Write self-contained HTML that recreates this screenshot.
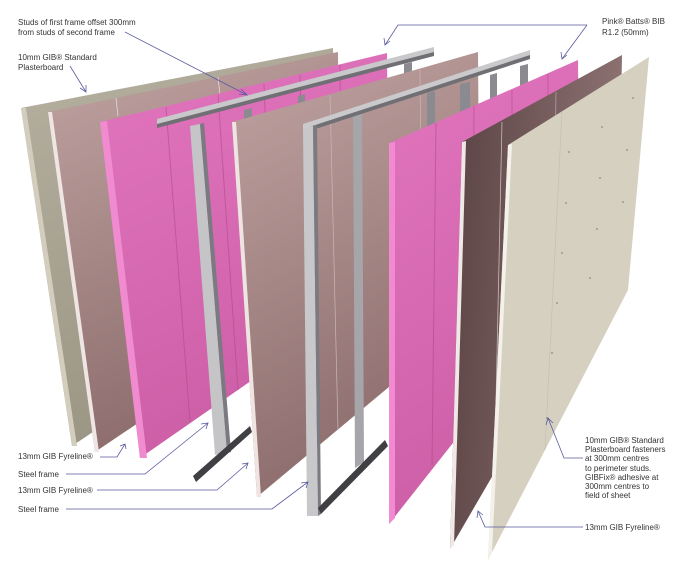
<!DOCTYPE html>
<html><head><meta charset="utf-8"><style>
html,body{margin:0;padding:0;background:#fff;width:682px;height:573px;overflow:hidden}
svg{display:block}
text{font-family:"Liberation Sans",sans-serif;font-size:8px;fill:#333}
</style></head><body>
<svg width="682" height="573" viewBox="0 0 682 573" xmlns="http://www.w3.org/2000/svg">
<defs>
<linearGradient id="mv" x1="0" y1="0" x2="0.3" y2="1"><stop offset="0" stop-color="#c0a4a2"/><stop offset="1" stop-color="#8c6c6c"/></linearGradient>
<linearGradient id="pk" x1="0" y1="0" x2="0.3" y2="1"><stop offset="0" stop-color="#e276be"/><stop offset="1" stop-color="#cc5ea6"/></linearGradient>
<linearGradient id="dk" x1="0" y1="0" x2="1" y2="0.2"><stop offset="0" stop-color="#5a4242"/><stop offset="1" stop-color="#8d7272"/></linearGradient>
<linearGradient id="gr" x1="0" y1="0" x2="0.3" y2="1"><stop offset="0" stop-color="#b6b0a0"/><stop offset="1" stop-color="#9b9584"/></linearGradient>
</defs>
<polygon points="21,108 333,48 338,268 72,446" fill="url(#gr)"/>
<polygon points="21,108 26,108 77,446 72,446" fill="#d2cdbd"/>
<polygon points="48,112 338,52 340,287 95,452" fill="url(#mv)"/>
<polygon points="48,112 52,112 99,452 95,452" fill="#efe6e4"/>
<line x1="116" y1="98" x2="118" y2="116" stroke="#ddd" stroke-width="0.8"/>
<line x1="218" y1="77" x2="220" y2="95" stroke="#ddd" stroke-width="0.8"/>
<polygon points="100,122 387,53 389,285 140,458" fill="url(#pk)"/>
<polygon points="100,122 107,121 147,458 140,458" fill="#f08bd0"/>
<g stroke="#b04a8a" stroke-width="1" opacity="0.6">
<line x1="166" y1="107" x2="190" y2="422"/><line x1="218" y1="95" x2="238" y2="390"/><line x1="264" y1="84" x2="275" y2="360"/><line x1="300" y1="75" x2="305" y2="320"/><line x1="340" y1="65" x2="342" y2="300"/>
</g>
<polygon points="157,119 434,47 434,54 157,126" fill="#c9c9cc"/>
<polygon points="157,124 434,52 434,56 157,128" fill="#6f6f74"/>
<polygon points="244,110 252,108 252,280 244,285" fill="#8a8a90"/>
<polygon points="298,96 305,94 305,250 298,255" fill="#8a8a90"/>
<polygon points="404,64 412,62 412,100 404,100" fill="#8a8a90"/>
<polygon points="190,126 200,124 227,453 215,455" fill="#c5c5c8"/>
<polygon points="200,124 204,123 231,452 227,453" fill="#7a7a80"/>
<polygon points="193,476 250,426 252,432 196,482" fill="#3f3f44"/>
<polygon points="232,122 478,52 480,311 257,497" fill="url(#mv)"/>
<polygon points="232,122 236,122 261,497 257,497" fill="#efe4e2"/>
<line x1="330" y1="95" x2="338" y2="430" stroke="#c8b8b8" stroke-width="0.7"/>
<line x1="420" y1="70" x2="423" y2="355" stroke="#c8b8b8" stroke-width="0.7"/>
<polygon points="353,115 362,113 364,462 355,468" fill="#a6a6aa"/>
<polygon points="427,93 435,91 435,360 427,370" fill="#8a8a90"/>
<polygon points="460,84 470,82 470,300 460,305" fill="#8a8a90"/>
<polygon points="490,75 497,73 497,260 490,265" fill="#8a8a90"/>
<polygon points="520,66 528,64 528,220 520,225" fill="#8a8a90"/>
<polygon points="303,124 530,50 530,57 303,131" fill="#cacacd"/>
<polygon points="303,129 530,55 530,59 303,133" fill="#6f6f74"/>
<polygon points="303,128 313,126 318,516 307,516" fill="#c8c8cb"/>
<polygon points="313,126 317,125 321,514 318,516" fill="#7a7a80"/>
<polygon points="318,508 385,440 388,446 321,514" fill="#3f3f44"/>
<polygon points="389,143 578,60 580,282 389,524" fill="url(#pk)"/>
<polygon points="389,143 395,142 395,518 389,524" fill="#f28ad2"/>
<g stroke="#b04a8a" stroke-width="1" opacity="0.6">
<line x1="436" y1="123" x2="432" y2="465"/><line x1="474" y1="106" x2="472" y2="415"/><line x1="512" y1="90" x2="512" y2="365"/><line x1="548" y1="74" x2="548" y2="320"/>
</g>
<polygon points="462,142 622,55 618,260 450,549" fill="url(#dk)"/>
<polygon points="462,142 466,141 454,545 450,549" fill="#f0e8e6"/>
<line x1="502" y1="122" x2="494" y2="495" stroke="#c9b9b9" stroke-width="0.8"/>
<line x1="556" y1="92" x2="552" y2="400" stroke="#b9a9a9" stroke-width="0.7"/>
<polygon points="508,145 649,57 628,290 488,560" fill="#d6d0c0"/>
<polygon points="508,145 512,144 492,553 488,560" fill="#f4f1ea"/>
<line x1="562" y1="112" x2="545" y2="450" stroke="#c6c0b0" stroke-width="0.7"/>
<g fill="#8f8a7c">
<circle cx="569" cy="152" r="0.9"/><circle cx="602" cy="127" r="0.9"/><circle cx="633" cy="98" r="0.9"/><circle cx="566" cy="203" r="0.9"/><circle cx="600" cy="178" r="0.9"/><circle cx="627" cy="150" r="0.9"/><circle cx="562" cy="253" r="0.9"/><circle cx="597" cy="229" r="0.9"/><circle cx="623" cy="202" r="0.9"/><circle cx="557" cy="303" r="0.9"/><circle cx="590" cy="278" r="0.9"/><circle cx="552" cy="353" r="0.9"/><circle cx="547" cy="418" r="0.9"/>
</g>
<g stroke="#5a5aa0" stroke-width="0.8" fill="none">
<polyline points="125,32 247,95"/><polyline points="241,89 247,95 239,94"/>
<polyline points="70,66 86,92"/><polyline points="80,88 86,92 86,85"/>
<polyline points="587,25 398,25 385,45"/><polyline points="384,38 385,45 390,41"/>
<polyline points="587,25 562,59"/><polyline points="561,52 562,59 567,55"/>
<polyline points="100,457 117,457 125,444"/><polyline points="120,446 125,444 126,449"/>
<polyline points="66,474 145,474 208,423"/><polyline points="201,424 208,423 206,429"/>
<polyline points="97,490 217,490 248,463"/><polyline points="242,464 248,463 246,469"/>
<polyline points="66,509 272,509 308,482"/><polyline points="301,483 308,482 306,488"/>
<polyline points="583,458 564,458 548,418"/><polyline points="546,425 548,418 553,423"/>
<polyline points="583,527 485,527 478,511"/><polyline points="477,518 478,511 483,515"/>
</g>
<text x="18" y="25">Studs of first frame offset 300mm</text>
<text x="18" y="35">from studs of second frame</text>
<text x="18" y="60">10mm GIB® Standard</text>
<text x="18" y="70">Plasterboard</text>
<text x="602" y="24">Pink® Batts® BIB</text>
<text x="602" y="35">R1.2 (50mm)</text>
<text x="18" y="459">13mm GIB Fyreline®</text>
<text x="18" y="477">Steel frame</text>
<text x="18" y="493">13mm GIB Fyreline®</text>
<text x="18" y="512">Steel frame</text>
<text x="585" y="443">10mm GIB® Standard</text>
<text x="585" y="452">Plasterboard fasteners</text>
<text x="585" y="461">at 300mm centres</text>
<text x="585" y="471">to perimeter studs.</text>
<text x="585" y="480">GIBFix® adhesive at</text>
<text x="585" y="489">300mm centres to</text>
<text x="585" y="498">field of sheet</text>
<text x="585" y="530">13mm GIB Fyreline®</text>
</svg>
</body></html>
